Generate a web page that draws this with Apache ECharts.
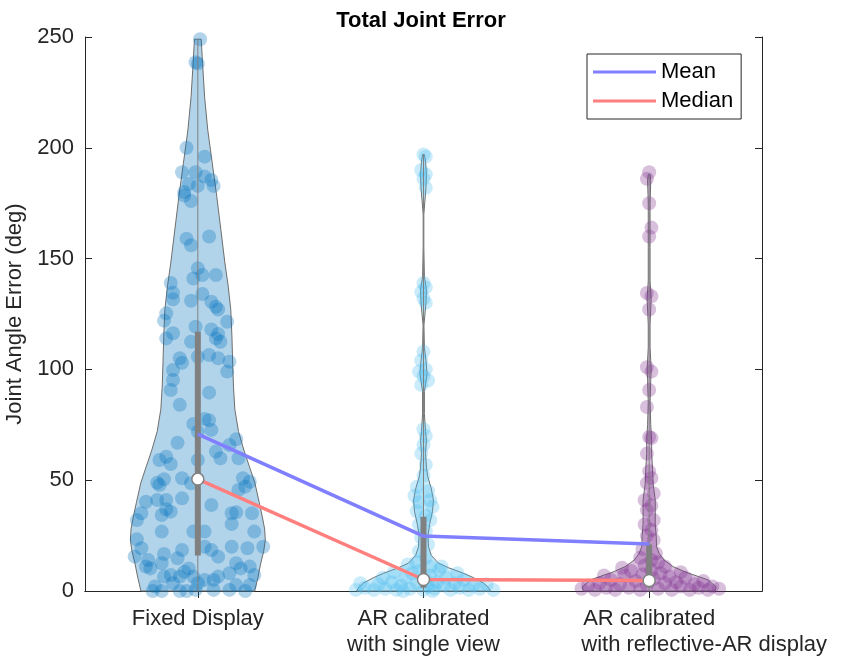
<!DOCTYPE html>
<html>
<head>
<meta charset="utf-8">
<script src="https://cdn.jsdelivr.net/npm/echarts@6/dist/echarts.min.js"></script>
<style>
  html, body { margin: 0; padding: 0; background: #fff; }
  #main { width: 842px; height: 667px; }
</style>
</head>
<body>
<div id="main"></div>
<script>
// groups
var categories = ['Fixed Display', 'AR calibrated\nwith single view', 'AR calibrated\nwith reflective-AR display'];
var yTicks = [0, 50, 100, 150, 200, 250];

// summary stats per group: [min, q1, median, q3, max]
var statsFixed = [0, 16, 50.5, 117, 249];
var statsSingle = [0, 1.5, 5.2, 33.5, 197];
var statsReflect = [0, 1.5, 4.7, 21, 188];
var meanValues = [70.8, 24.8, 21.2];
var medianValues = [50.5, 5.2, 4.7];

// violin profiles: [value, half width in category units]
var violinFixed = [[0,0.252],[6,0.266],[12.6,0.279],[18,0.292],[23,0.299],[28,0.296],[33.4,0.286],[40,0.272],[48.7,0.253],[56,0.229],[63.6,0.204],[72,0.180],[82,0.164],[92,0.158],[101,0.155],[115,0.151],[127,0.146],[138,0.134],[148,0.120],[163,0.102],[178,0.084],[193,0.064],[208,0.044],[223,0.030],[238,0.021],[249,0.015]];
var violinSingle = [[0,0.297],[2,0.284],[3.6,0.266],[6,0.222],[8,0.177],[10.5,0.111],[12.6,0.066],[16,0.035],[20,0.022],[25,0.020],[30,0.027],[36,0.040],[41,0.044],[46,0.035],[52,0.018],[56,0.013],[62,0.009],[68,0.013],[72,0.009],[80,0.004],[90,0.004],[98,0.016],[104,0.011],[110,0.004],[120,0.002],[130,0.011],[136,0.013],[142,0.004],[155,0.0015],[170,0.0015],[182,0.011],[188,0.013],[194,0.009],[197,0.004]];
var violinReflect = [[0,0.292],[1.8,0.297],[5,0.261],[8.6,0.160],[11,0.106],[14,0.066],[17,0.044],[20,0.033],[25,0.031],[30,0.027],[36,0.027],[41,0.027],[48,0.018],[55,0.015],[62,0.011],[68,0.011],[75,0.007],[85,0.004],[95,0.007],[100,0.009],[110,0.004],[120,0.004],[132,0.009],[140,0.004],[155,0.004],[165,0.004],[175,0.004],[185,0.007],[188,0.004]];

// jittered observations: [offset from group centre, value]
var pointsFixed = [[0.01,249],[-0.01,238.6],[0.00,238],[-0.05,200],[0.03,196],[-0.07,189],[-0.01,189],[0.03,187],[0.06,185.5],[-0.04,183.7],[0.00,182.8],[0.07,182.8],[-0.06,180],[-0.06,178.5],[-0.03,176],[-0.05,159],[-0.03,156],[0.05,160],[0.00,145.6],[-0.02,141],[0.02,142.6],[0.08,142.6],[-0.12,139],[-0.11,134.6],[-0.11,131.6],[-0.03,131],[0.02,134],[0.06,130.5],[0.08,128.3],[0.09,127],[-0.14,125.3],[-0.15,122],[0.13,121.5],[-0.11,116.3],[-0.14,114],[-0.01,119.3],[-0.03,112.5],[0.06,118],[0.09,116],[0.10,112.5],[0.08,114],[0.00,105.7],[-0.08,105],[-0.07,103],[0.05,106.5],[0.09,105],[0.14,103.5],[0.13,99],[-0.11,99.7],[-0.11,95.2],[-0.12,90.7],[0.05,89.5],[-0.08,84],[-0.02,75.4],[0.03,77.6],[0.05,77],[0.06,72.7],[0.00,71.9],[-0.09,66.9],[0.17,68.5],[0.14,65.9],[0.08,62.9],[0.10,59.9],[0.18,59.9],[-0.14,60.6],[-0.17,59.1],[-0.12,57.3],[0.00,59.1],[-0.07,50.9],[-0.03,48.6],[-0.18,48.9],[-0.17,47.8],[-0.15,50.4],[0.20,50.9],[0.23,49.3],[0.21,47.1],[0.18,45.6],[-0.07,41.8],[0.06,38.8],[-0.23,40.3],[-0.18,41.1],[-0.14,41.1],[-0.14,36.9],[-0.12,35.8],[-0.25,35.1],[-0.27,32],[-0.16,34.3],[0.15,35.1],[0.17,35.5],[0.24,35.1],[0.15,30.2],[-0.16,26.8],[-0.02,26.8],[0.03,26.8],[0.25,26.8],[-0.27,23.3],[-0.25,19.3],[0.03,20],[0.06,18.5],[-0.07,18.5],[-0.09,14.8],[0.15,20],[0.22,19.3],[0.29,20],[-0.15,16.7],[-0.16,12.5],[-0.28,15.5],[-0.22,14],[-0.23,11],[-0.21,10.2],[0.09,15.5],[0.17,12.5],[0.14,8],[0.19,10.2],[0.25,7.2],[0.23,11],[-0.06,8.7],[-0.04,10.2],[-0.08,6.5],[-0.02,6.5],[-0.12,7.2],[-0.15,6.5],[0.03,5],[0.07,5],[0.09,6.5],[-0.19,2],[-0.16,0],[-0.20,0],[-0.11,3.5],[-0.08,0],[-0.05,0],[-0.01,0.5],[0.00,3.5],[0.07,0.5],[0.14,0.5],[0.17,2.7],[0.21,0],[0.23,2.7]];
var pointsSingle = [[0.00,197],[0.01,196],[-0.01,190],[0.01,188],[0.00,186],[0.01,182],[0.00,139],[0.01,137],[-0.01,135],[0.00,132],[0.01,130],[0.00,108],[-0.01,104],[0.01,100],[-0.02,99],[0.00,97],[0.02,95],[-0.01,93],[0.00,73],[0.01,70],[0.00,66],[-0.01,62],[0.01,57],[0.00,52],[-0.03,47],[0.02,45],[-0.04,43],[0.03,41],[-0.02,40],[0.04,38],[-0.03,36],[0.01,34],[0.03,32],[-0.02,30],[0.01,27],[-0.01,24],[0.02,21],[-0.02,18],[0.01,15],[-0.03,13],[0.03,11],[-0.30,0.5],[-0.26,1.5],[-0.22,0.5],[-0.20,3],[-0.17,1],[-0.14,4],[-0.12,0.5],[-0.10,2.5],[-0.08,6],[-0.06,1],[-0.05,8],[-0.03,3.5],[-0.02,9],[0.00,0.5],[0.01,5],[0.02,2],[0.03,7],[0.05,1],[0.06,4],[0.07,9.5],[0.09,2.5],[0.10,6],[0.12,0.5],[0.14,3.5],[0.16,1.5],[0.18,5],[0.20,0.5],[0.22,2.5],[0.25,1],[0.28,3],[0.31,0.5],[-0.28,3.5],[-0.18,6],[-0.09,0],[0.04,0],[0.15,8],[-0.13,8.5],[0.08,11],[-0.07,12]];
var pointsReflect = [[0.00,189],[-0.01,186],[0.00,175],[0.01,164],[0.00,160],[-0.01,134.5],[0.01,133],[0.00,127],[-0.01,101],[0.01,99],[0.00,90.7],[-0.01,83],[0.00,69.5],[0.01,69],[-0.01,62],[0.00,54],[0.01,51],[-0.01,48.7],[0.02,44],[-0.02,41],[0.01,38.5],[-0.01,36.5],[0.02,32],[-0.02,30],[0.01,27.5],[-0.01,25],[0.02,23],[-0.03,19],[0.03,17],[-0.04,15],[0.04,13],[-0.02,11.5],[0.01,14],[-0.30,1],[-0.27,2.5],[-0.24,0.5],[-0.22,3.5],[-0.19,1.5],[-0.17,5],[-0.15,0.5],[-0.13,3],[-0.11,7],[-0.09,1.5],[-0.08,9],[-0.06,4.5],[-0.04,0.5],[-0.03,7.5],[-0.01,2.5],[0.01,9.5],[0.02,5.5],[0.04,1],[0.05,8],[0.07,3.5],[0.09,6.5],[0.10,0.5],[0.12,4],[0.14,2],[0.16,6],[0.18,0.5],[0.20,3],[0.22,1.5],[0.24,4.5],[0.26,0.5],[0.28,2],[0.31,1],[-0.20,7],[0.14,8.5],[-0.12,10.5],[0.07,11]];

var groups = [
  {pos: 1, violin: violinFixed, points: pointsFixed, stats: statsFixed, color: '#0072BD', fill: 'rgba(0,114,189,0.30)'},
  {pos: 2, violin: violinSingle, points: pointsSingle, stats: statsSingle, color: '#4DBEEE', fill: 'rgba(77,190,238,0.30)'},
  {pos: 3, violin: violinReflect, points: pointsReflect, stats: statsReflect, color: '#7E2F8E', fill: 'rgba(126,47,142,0.30)'}
];

var axisColor = '#262626';
var font = 'Liberation Sans, Arial, Helvetica, sans-serif';

function violinRender(g) {
  return function (params, api) {
    var right = [], left = [];
    g.violin.forEach(function (p) {
      right.push(api.coord([g.pos + p[1], p[0]]));
      left.unshift(api.coord([g.pos - p[1], p[0]]));
    });
    return {
      type: 'polygon',
      shape: {points: right.concat(left)},
      style: {fill: g.fill, stroke: '#6e6e6e', lineWidth: 1}
    };
  };
}

function boxRender(params, api) {
  var g = groups[params.dataIndex];
  var s = g.stats;
  var lo = api.coord([g.pos, s[0]]), hi = api.coord([g.pos, s[4]]);
  var q1 = api.coord([g.pos, s[1]]), q3 = api.coord([g.pos, s[3]]);
  return {
    type: 'group',
    children: [
      {type: 'line', shape: {x1: lo[0], y1: lo[1], x2: hi[0], y2: hi[1]}, style: {stroke: '#808080', lineWidth: 1}},
      {type: 'line', shape: {x1: q1[0], y1: q1[1], x2: q3[0], y2: q3[1]}, style: {stroke: '#808080', lineWidth: 6}}
    ]
  };
}

var series = [];
groups.forEach(function (g) {
  series.push({
    type: 'custom', xAxisIndex: 2, yAxisIndex: 0, z: 1, silent: true,
    data: [[g.pos, 0]],
    renderItem: violinRender(g)
  });
});
groups.forEach(function (g) {
  series.push({
    type: 'scatter', xAxisIndex: 2, yAxisIndex: 0, z: 2, silent: true,
    symbolSize: 14,
    itemStyle: {color: g.color, opacity: 0.3},
    data: g.points.map(function (p) { return [g.pos + p[0], p[1]]; })
  });
});
series.push({
  type: 'custom', xAxisIndex: 2, yAxisIndex: 0, z: 3, silent: true,
  data: groups.map(function (g) { return [g.pos, g.stats[2]]; }),
  renderItem: boxRender
});
series.push({
  name: 'Mean', type: 'line', xAxisIndex: 2, yAxisIndex: 0, z: 4,
  symbol: 'none', lineStyle: {color: '#7f7fff', width: 3.5}, itemStyle: {color: '#7f7fff'},
  data: meanValues.map(function (v, i) { return [i + 1, v]; })
});
series.push({
  name: 'Median', type: 'line', xAxisIndex: 2, yAxisIndex: 0, z: 4,
  symbol: 'none', lineStyle: {color: '#ff7f7f', width: 3.5}, itemStyle: {color: '#ff7f7f'},
  data: medianValues.map(function (v, i) { return [i + 1, v]; })
});
series.push({
  type: 'scatter', xAxisIndex: 2, yAxisIndex: 0, z: 5, silent: true,
  symbolSize: 12,
  itemStyle: {color: '#ffffff', borderColor: '#808080', borderWidth: 1.5, opacity: 1},
  data: medianValues.map(function (v, i) { return [i + 1, v]; })
});

var option = {
  animation: false,
  backgroundColor: '#fff',
  title: {
    text: 'Total Joint Error',
    left: 'center', top: 5,
    textStyle: {fontFamily: font, fontWeight: 'bold', fontSize: 22, color: '#000'}
  },
  legend: {
    orient: 'vertical',
    left: 587, top: 54,
    padding: [7, 8, 7, 6],
    itemGap: 7,
    itemWidth: 63, itemHeight: 3,
    icon: 'rect',
    borderColor: axisColor, borderWidth: 1, borderRadius: 0,
    backgroundColor: '#fff',
    textStyle: {fontFamily: font, fontSize: 22, color: '#000'},
    data: ['Mean', 'Median']
  },
  grid: {left: 85, right: 80, top: 37, bottom: 76, outerBoundsMode: 'none', containLabel: false},
  xAxis: [
    {
      type: 'category', data: categories, position: 'bottom',
      axisLine: {lineStyle: {color: axisColor, width: 1}},
      axisTick: {inside: true, alignWithLabel: true, length: 7, lineStyle: {color: axisColor}},
      axisLabel: {
        interval: 0,
        fontFamily: font, fontSize: 22, color: axisColor, margin: 15, lineHeight: 26,
        formatter: function (v) {
          if (v.indexOf('reflective') >= 0) {
            var parts = v.split('\n');
            return parts[0] + '\n{p|' + parts[1] + '}';
          }
          return v;
        },
        rich: {p: {fontFamily: font, fontSize: 22, color: axisColor, lineHeight: 26, padding: [0, 0, 0, 110]}}
      }
    },
    {
      type: 'category', data: categories, position: 'top',
      axisLine: {lineStyle: {color: axisColor, width: 1}},
      axisTick: {show: true, interval: 0, inside: true, alignWithLabel: true, length: 7, lineStyle: {color: axisColor}},
      axisLabel: {show: false, interval: 0}
    },
    {
      type: 'value', min: 0.5, max: 3.5, show: false
    }
  ],
  yAxis: [
    {
      type: 'value', min: 0, max: 250, interval: 50, position: 'left',
      name: 'Joint Angle Error (deg)', nameLocation: 'middle', nameGap: 51,
      nameTextStyle: {fontFamily: font, fontSize: 22, color: axisColor},
      axisLine: {show: true, lineStyle: {color: axisColor, width: 1}},
      axisTick: {show: true, inside: true, length: 7, lineStyle: {color: axisColor}},
      axisLabel: {fontFamily: font, fontSize: 22, color: axisColor, margin: 11,
        formatter: function (v) { return yTicks.indexOf(v) >= 0 ? String(v) : ''; }},
      splitLine: {show: false}
    },
    {
      type: 'value', min: 0, max: 250, interval: 50, position: 'right',
      axisLine: {show: true, lineStyle: {color: axisColor, width: 1}},
      axisTick: {show: true, inside: true, length: 7, lineStyle: {color: axisColor}},
      axisLabel: {show: false},
      splitLine: {show: false}
    }
  ],
  series: series
};

var chart = echarts.init(document.getElementById('main'));
chart.setOption(option);
</script>
</body>
</html>
